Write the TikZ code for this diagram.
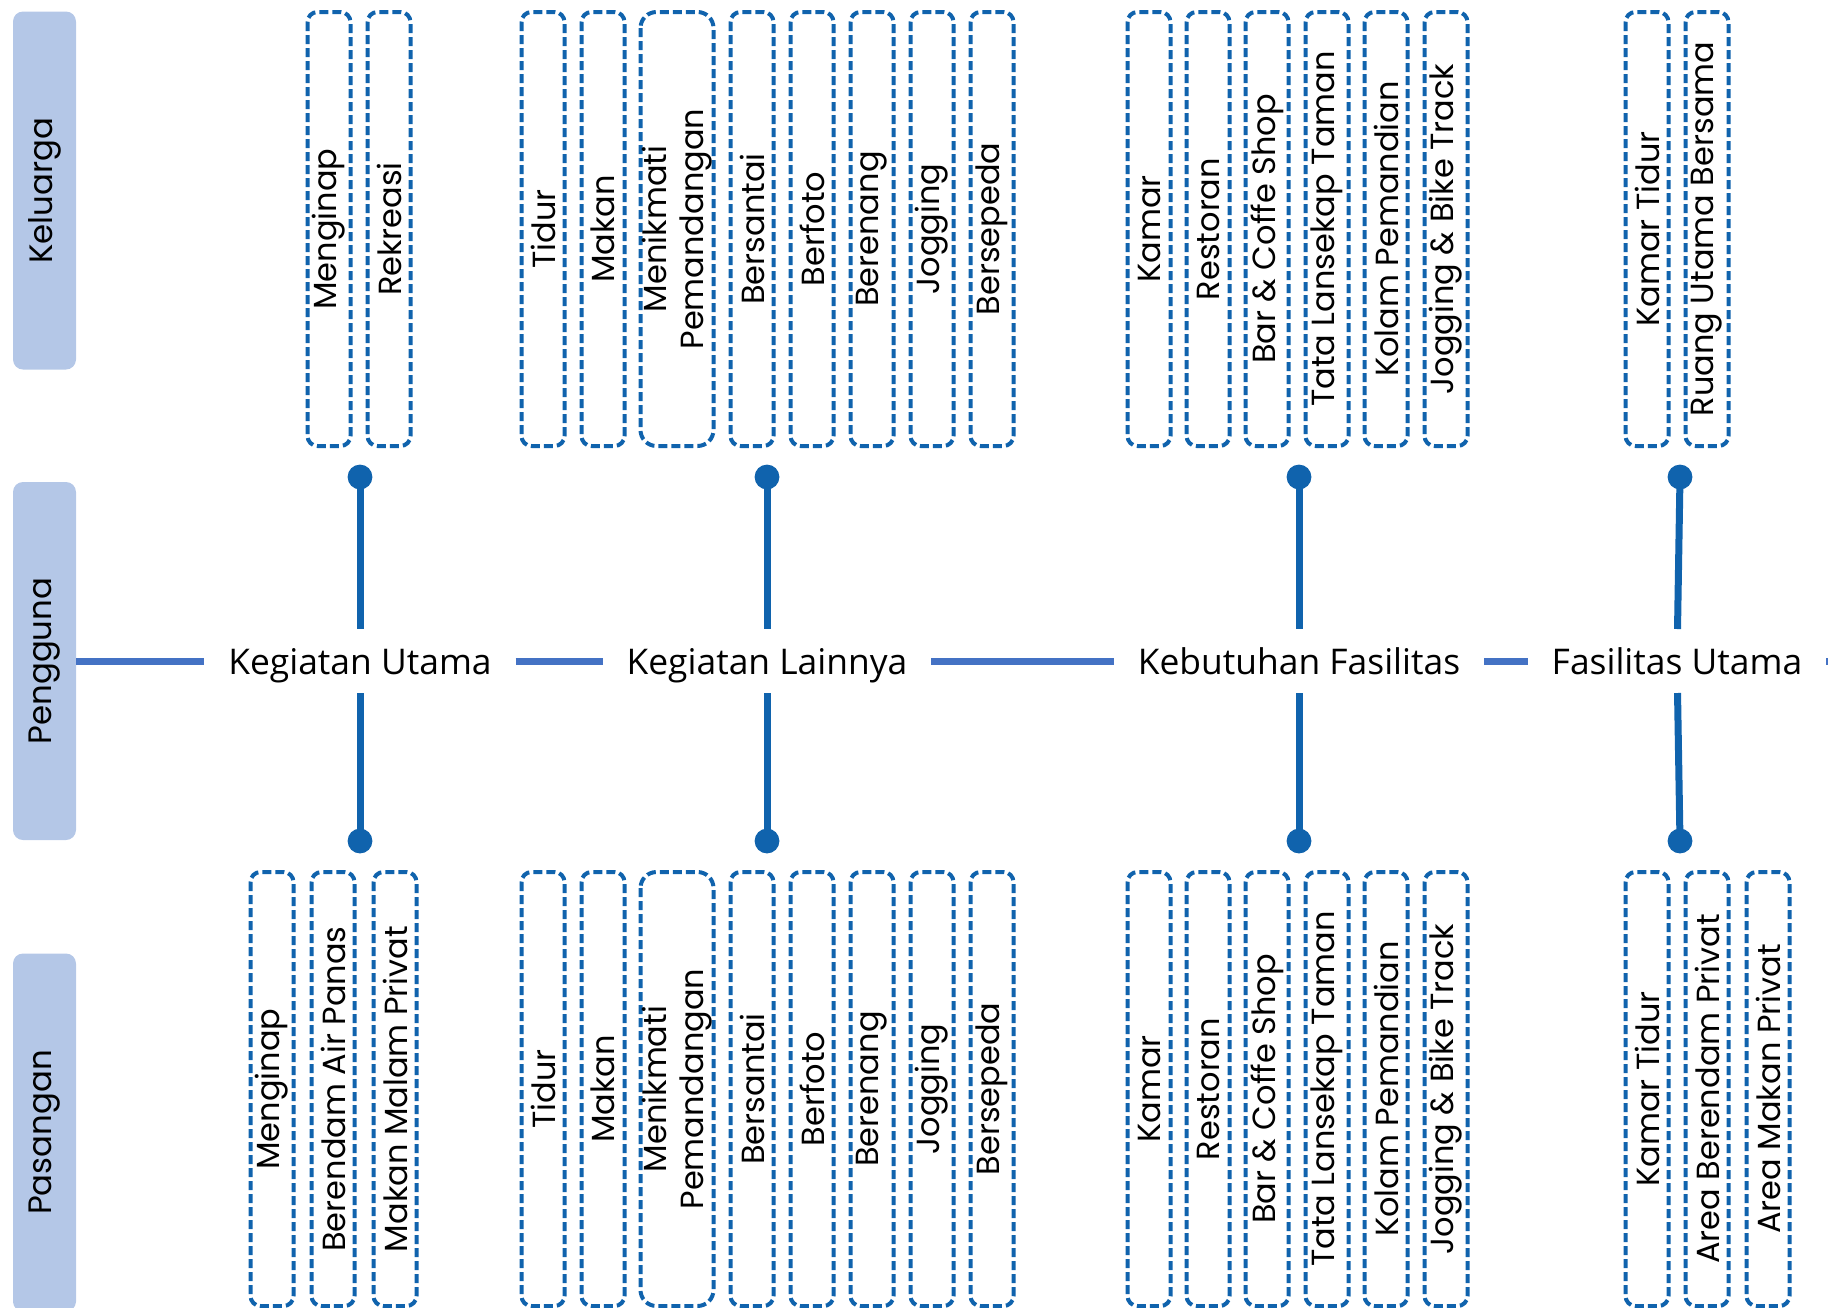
\documentclass[tikz,border=0pt]{standalone}
\usepackage{fontspec}
\usepackage{tikz}
\usetikzlibrary{arrows.meta}
\setmainfont{Poppins}
\newfontfamily\judulfont{Open Sans}
\definecolor{garis}{HTML}{4472C4}
\definecolor{biru}{HTML}{1063AD}
\definecolor{kotak}{HTML}{B4C7E7}

\begin{document}
\begin{tikzpicture}[x=0.5pt,y=-0.5pt,
    kolom/.style={draw=biru,line width=2pt,dash pattern=on 4.5pt off 2pt,
      rounded corners=5pt,rotate=90,minimum width=217pt,minimum height=21.5pt,
      inner sep=0pt,align=center,font=\fontsize{16}{18.5}\selectfont},
    sisi/.style={fill=kotak,rounded corners=5pt,rotate=90,minimum width=179pt,
      minimum height=31.5pt,inner sep=0pt,font=\fontsize{16.2}{18}\selectfont},
    tahap/.style={font=\judulfont\fontsize{17.7}{20}\selectfont,inner xsep=12pt,
      text height=13pt,text depth=0pt,minimum height=32pt,outer sep=0pt},
    garisutama/.style={draw=garis,line width=3.5pt},
    tangkai/.style={draw=biru,line width=3.5pt}]
        \def\yatas{229}
        \def\ybawah{1089}
        \useasboundingbox (0,0) rectangle (1828,1308);

        % --- sisi kiri ---
        \node[sisi] (keluarga) at (44.5,190.5) {Keluarga};
        \node[sisi] (pengguna) at (44.5,661) {Pengguna};
        \node[sisi] (pasangan) at (44.5,1132.5) {Pasangan};

        % --- alur tengah ---
        \node[tahap] (ku) at (360,661) {Kegiatan Utama};
        \node[tahap] (kl) at (767,661) {Kegiatan Lainnya};
        \node[tahap] (kf) at (1299,661) {Kebutuhan Fasilitas};
        \node[tahap] (fu) at (1677,661) {Fasilitas Utama};
        \coordinate (ujung) at (1850,661);
        \draw[garisutama] (pengguna) -- (ku) (ku) -- (kl) (kl) -- (kf)
          (kf) -- (fu) (fu) -- (ujung);

        % tangkai + titik
        \foreach \n/\x in {ku/360,kl/767,kf/1299,fu/1680} {
          \coordinate (\n-a) at (\x,477);
          \coordinate (\n-b) at (\x,841);
          \draw[tangkai] (\n-a) -- (\n) (\n) -- (\n-b);
          \fill[biru] (\n-a) circle (6.2pt) (\n-b) circle (6.2pt);
        }

        % --- kolom atas (Keluarga) ---
        \foreach \x/\teks [count=\i] in {329/Menginap,389/Rekreasi,543/Tidur,
            603/Makan,752/Bersantai,812/Berfoto,872/Berenang,932/Jogging,
            992/Bersepeda,1149/Kamar,1208/Restoran,1267/Bar \& Coffe Shop,
            1327/Tata Lansekap Taman,1386/Kolam Pemandian,
            1446/Jogging \& Bike Track,1647/Kamar Tidur,1707/Ruang Utama Bersama}
          \node[kolom] (atas-\i) at (\x,\yatas) {\teks};
        \node[kolom,minimum height=36.5pt,rounded corners=8pt] (atas-lebar)
          at (677,\yatas) {Menikmati\\Pemandangan};

        % --- kolom bawah (Pasangan) ---
        \foreach \x/\teks [count=\i] in {272/Menginap,333/Berendam Air Panas,
            395/Makan Malam Privat,543/Tidur,603/Makan,752/Bersantai,812/Berfoto,
            872/Berenang,932/Jogging,992/Bersepeda,1149/Kamar,1208/Restoran,
            1267/Bar \& Coffe Shop,1327/Tata Lansekap Taman,1386/Kolam Pemandian,
            1446/Jogging \& Bike Track,1647/Kamar Tidur,1707/Area Berendam Privat,
            1768/Area Makan Privat}
          \node[kolom] (bawah-\i) at (\x,\ybawah) {\teks};
        \node[kolom,minimum height=36.5pt,rounded corners=8pt] (bawah-lebar)
          at (677,\ybawah) {Menikmati\\Pemandangan};
      \end{tikzpicture}
\end{document}
